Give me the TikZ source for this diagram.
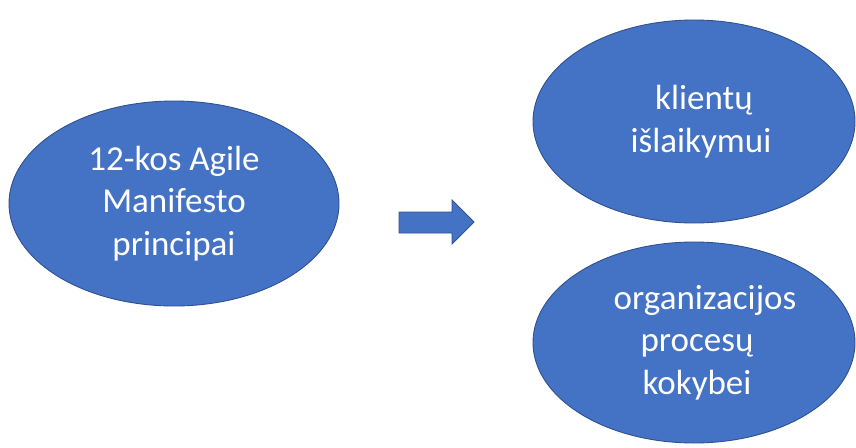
\documentclass[tikz,border=0pt]{standalone}
\usepackage{fontspec}
\setmainfont{Carlito}
\usetikzlibrary{shapes.geometric}
\definecolor{bluefill}{HTML}{4472C4}
\definecolor{blueline}{HTML}{2F528F}
\tikzset{
  bubble/.style={ellipse, draw=blueline, line width=0.9pt, fill=bluefill, text=white,
    inner sep=0pt, align=center, font=\fontsize{35}{42.5}\selectfont},
  bigarrow/.style={draw=blueline, line width=0.9pt, fill=bluefill}
}
\begin{document}
\begin{tikzpicture}[x=1pt,y=-1pt]
\useasboundingbox (0,0) rectangle (856,447);
\fill[white] (0,0) rectangle (856,447);
\node[bubble, minimum width=330pt, minimum height=205pt] (agile) at (174,203.5) {12-kos Agile\\Manifesto\\principai};
\node[bubble, minimum width=322pt, minimum height=203pt] (klientu) at (694,121.5) {\hspace*{20pt}klientų\\\hspace*{14pt}išlaikymui};
\node[bubble, minimum width=322pt, minimum height=201pt] (org) at (694,342.5) {\hspace*{22pt}organizacijos\\\hspace*{6pt}procesų\\\hspace*{6pt}kokybei};
\draw[bigarrow] (399,212) -- (452,212) -- (452,200) -- (474,222) -- (452,244) -- (452,233) -- (399,233) -- cycle;
\end{tikzpicture}
\end{document}
